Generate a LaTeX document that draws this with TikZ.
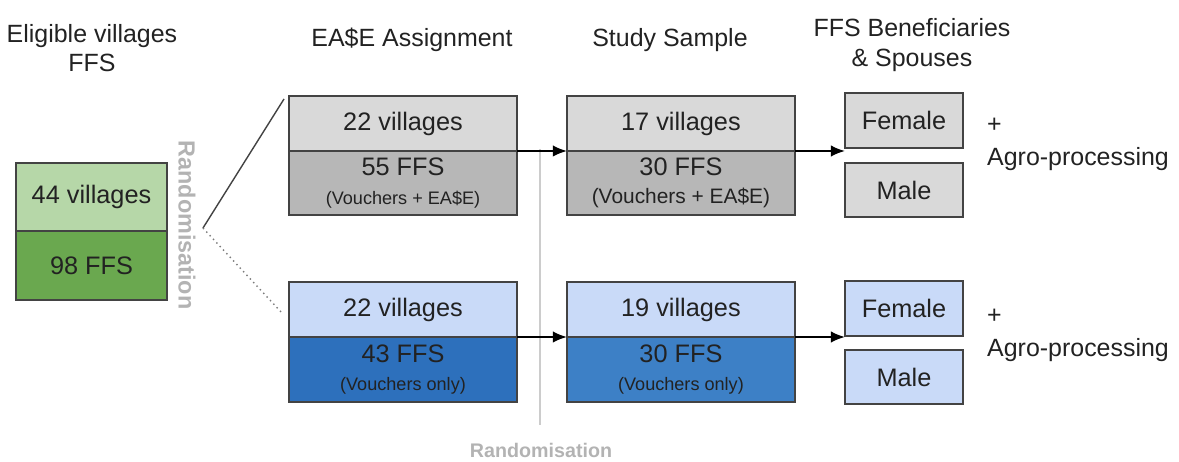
\documentclass[tikz,border=0pt]{standalone}
\usepackage{fontspec}
\setmainfont{Liberation Sans}
\usetikzlibrary{arrows.meta,positioning}

\definecolor{edge}{HTML}{434343}
\definecolor{ink}{HTML}{222222}
\definecolor{greenlt}{HTML}{B6D7A8}
\definecolor{greendk}{HTML}{6AA84F}
\definecolor{greylt}{HTML}{D9D9D9}
\definecolor{greydk}{HTML}{B7B7B7}
\definecolor{bluelt}{HTML}{C9DAF8}
\definecolor{bluedk}{HTML}{2D70BC}
\definecolor{bluemd}{HTML}{3D80C6}
\definecolor{randgrey}{HTML}{B3B3B3}

\begin{document}
\begin{tikzpicture}[x=0.02cm,y=-0.02cm]
    \tikzset{half/.style= {draw=edge, rectangle
    , line width=0.8pt
    , outer sep=0pt
    , inner sep=0pt
    , minimum width=4.56cm
    , align=center
    , text=ink
    , font=\fontsize{14.4}{17}\selectfont
      },
    head/.style={align=center, text=ink, font=\fontsize{14.2}{16.8}\selectfont},
    rand/.style={text=randgrey, font=\bfseries},
    link/.style={draw=black, line width=1.1pt, -{Latex[length=8pt,width=6.5pt]}}
    }
\useasboundingbox (0,0) rectangle (1179,462);

\node [head] (hpool) at (92,48) {Eligible villages\\FFS};
\node [head] (hease) at (412,40) {EA\$E Assignment};
\node [head] (hstudy) at (670,40) {Study Sample};
\node [head] (hbenef) at (912,45) {FFS Beneficiaries\\\& Spouses};

\node [half, fill=greenlt, minimum width=3.02cm, minimum height=1.36cm] (pool) at (91.5,197) {44 villages};
\node [half, fill=greendk, minimum width=3.02cm, minimum height=1.38cm, below=0pt of pool] (poolffs) {98 FFS};
\node [rand, rotate=-90, font=\fontsize{13.3}{16}\selectfont\bfseries] (randA) at (187,225) {Randomisation};

\node [half, fill=greylt, minimum height=1.1cm] (ease) at (403,123.5) {22 villages};
\node [half, fill=greydk, minimum height=1.28cm, below=0pt of ease] (easeffs) {55 FFS\\[-1pt]{\fontsize{10.3}{12}\selectfont(Vouchers + EA\$E)}};
\node [half, fill=bluelt, minimum height=1.1cm] (ctrl) at (403,309.5) {22 villages};
\node [half, fill=bluedk, minimum height=1.3cm, below=0pt of ctrl] (ctrlffs) {43 FFS\\[-1pt]{\fontsize{10.3}{12}\selectfont(Vouchers only)}};

\node [half, fill=greylt, minimum height=1.1cm, right=1cm of ease] (study) {17 villages};
\node [half, fill=greydk, minimum height=1.28cm, below=0pt of study] (studyffs) {30 FFS\\[-1pt]{\fontsize{11.9}{14}\selectfont(Vouchers + EA\$E)}};
\node [half, fill=bluelt, minimum height=1.1cm, right=1cm of ctrl] (studyc) {19 villages};
\node [half, fill=bluemd, minimum height=1.3cm, below=0pt of studyc] (studycffs) {30 FFS\\[-1pt]{\fontsize{10.3}{12}\selectfont(Vouchers only)}};

\node [half, fill=greylt, minimum width=2.36cm, minimum height=1.1cm] (femA) at (904,120.5) {Female};
\node [half, fill=greylt, minimum width=2.36cm, minimum height=1.08cm] (maleA) at (904,190) {Male};
\node [half, fill=bluelt, minimum width=2.36cm, minimum height=1.1cm] (femB) at (904,308.5) {Female};
\node [half, fill=bluelt, minimum width=2.36cm, minimum height=1.08cm] (maleB) at (904,377) {Male};

\node [head, align=left, anchor=west, font=\fontsize{14.2}{18.7}\selectfont] (agroA) at (981,144) {+\\Agro-processing};
\node [head, align=left, anchor=west, font=\fontsize{14.2}{18.7}\selectfont] (agroB) at (981,335) {+\\Agro-processing};

\node [rand, font=\fontsize{11.2}{13}\selectfont\bfseries] (randB) at (541,450) {Randomisation};

\coordinate (fork) at (203,228);
\coordinate (upper) at (284,99);
\coordinate (lower) at (283,314);
\coordinate (cut) at (540,149);
\coordinate (cutend) at (540,425);

\path[draw=edge, line width=0.8pt] (fork) -- (upper);
\path[draw=edge!70, line width=0.8pt, dotted] (fork) -- (lower);
\path[draw=black!20, line width=0.8pt] (cut) -- (cutend);

 \path[link]
  (ease.south east) -- (study.south west);
 \path[link]
  (ctrl.south east) -- (studyc.south west);
 \path[link]
  (study.south east) -- (femA.south west |- study.south east);
 \path[link]
  (studyc.south east) -- (femB.south west |- studyc.south east);
\end{tikzpicture}
\end{document}
